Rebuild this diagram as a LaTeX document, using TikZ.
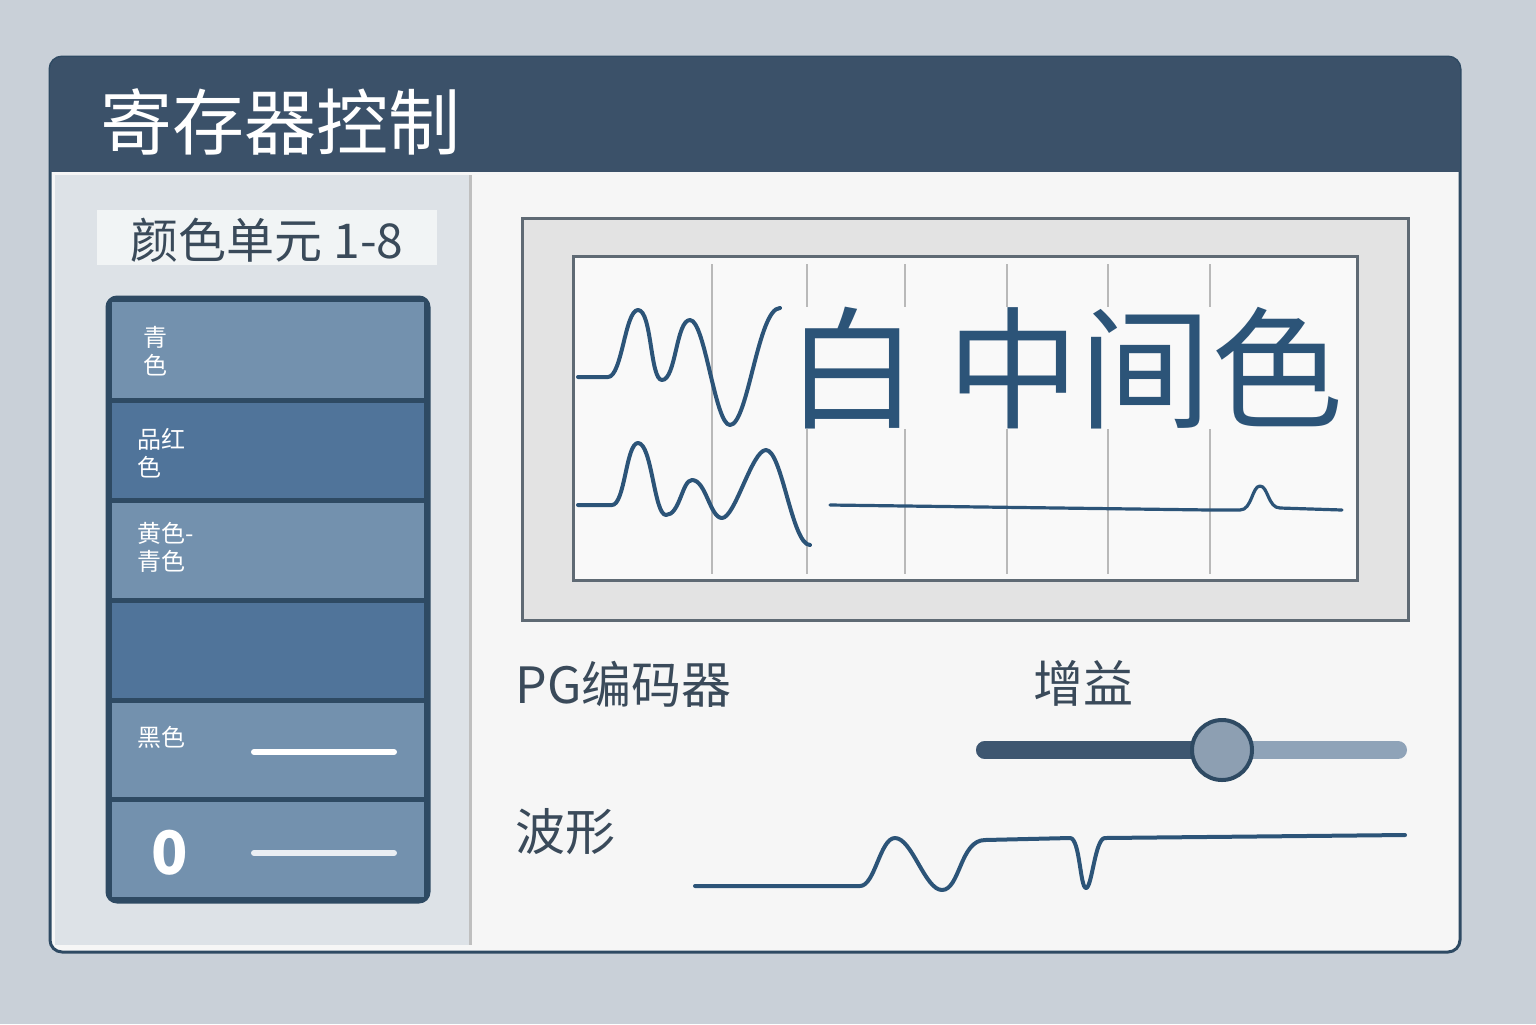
\documentclass[tikz,border=0pt]{standalone}
\usepackage{fontspec}
\setmainfont{Noto Sans CJK SC}
\begin{document}
\begin{tikzpicture}[x=0.5pt,y=-0.5pt,
  lbl/.style={anchor=west,inner sep=0pt,font=\fontsize{12}{14}\selectfont,text=white,align=left},
  wave/.style={draw=wavec,line width=2pt,line join=round,line cap=round},
  grid/.style={draw=gray!55,line width=1.2pt}]
\definecolor{bg}{HTML}{C9D0D8}
\definecolor{dark}{HTML}{2E4A63}
\definecolor{hdr}{HTML}{3B5169}
\definecolor{rowl}{HTML}{7391AE}
\definecolor{rowd}{HTML}{50749A}
\definecolor{wavec}{HTML}{2C5478}
\definecolor{txt}{HTML}{3A4A5A}
\definecolor{leftp}{HTML}{DDE2E7}
\definecolor{trackl}{HTML}{8FA3B8}
\useasboundingbox (0,0) rectangle (1536,1024);
\fill[bg] (0,0) rectangle (1536,1024);
\node[draw=dark,line width=1.5pt,fill=white!93!gray,rounded corners=6pt,minimum width=705pt,minimum height=447.5pt,inner sep=0pt] (panel) at (755,504.5) {};
\fill[hdr,rounded corners=6pt] (50,57) rectangle (1460,120);
\fill[hdr] (50,100) rectangle (1460,172);
\node[anchor=west,inner sep=0pt,text=white,font=\fontsize{36}{38}\selectfont] (title) at (100,122) {寄存器控制};
\fill[leftp] (55,175) rectangle (470,945);
\draw[gray!50,line width=1.5pt] (470,175) -- (470,945);
\fill[white!60!leftp] (97,210) rectangle (437,265);
\node[inner sep=0pt,text=txt,font=\fontsize{24}{26}\selectfont] (cu) at (267,240) {颜色单元 1-8};
\node[draw=dark,line width=1.5pt,fill=dark,rounded corners=5pt,minimum width=161pt,minimum height=302.5pt,inner sep=0pt] (list) at (268,599.5) {};
\fill[rowl] (112,302) rectangle (424,398);
\fill[rowd] (112,403) rectangle (424,498);
\fill[rowl] (112,503) rectangle (424,598);
\fill[rowd] (112,603) rectangle (424,698);
\fill[rowl] (112,703) rectangle (424,797);
\fill[rowl] (112,802) rectangle (424,897);
\node[lbl] (r1) at (143,351) {青\\色};
\node[lbl] (r2) at (137,453) {品红\\色};
\node[lbl] (r3) at (137,547) {黄色-\\青色};
\node[lbl] (r5) at (137,737) {黑色};
\node[inner sep=0pt,text=white,font=\bfseries\fontsize{30}{32}\selectfont] (r6) at (170,853) {0};
\draw[white,line width=3pt,line cap=round] (254,752) -- (394,752);
\draw[white!85!rowl,line width=3pt,line cap=round] (254,853) -- (394,853);
% scope
\node[draw=gray!60!dark,line width=1.5pt,fill=gray!22!white,minimum width=443pt,minimum height=201pt,inner sep=0pt] (scope) at (965,419) {};
\node[draw=gray!60!dark,line width=1.5pt,fill=white!95!gray,minimum width=392pt,minimum height=162pt,inner sep=0pt] (screen) at (965,418) {};
\foreach \x in {712,807,905,1007,1108,1210} \draw[grid] (\x,264) -- (\x,574);
\draw[wave] (578,377) -- (608,377) .. controls (622,377) and (625,310) .. (638,310) .. controls (652,310) and (650,380) .. (662,380) .. controls (676,380) and (676,320) .. (690,320) .. controls (705,320) and (715,425) .. (730,425) .. controls (748,425) and (758,308) .. (780,308);
\draw[wave] (578,505) -- (612,505) .. controls (625,505) and (626,443) .. (638,443) .. controls (652,443) and (654,515) .. (666,515) .. controls (680,515) and (682,480) .. (692,480) .. controls (706,480) and (710,518) .. (722,518) .. controls (735,518) and (752,450) .. (766,450) .. controls (782,450) and (792,545) .. (810,545);
\draw[wave,line width=1.6pt] (830,505) -- (1210,510) -- (1240,510) .. controls (1252,510) and (1252,486) .. (1260,486) .. controls (1268,486) and (1268,508) .. (1280,508) -- (1342,510);
\node[inner sep=0pt,fill=white!95!gray,text=wavec,font=\fontsize{66}{68}\selectfont] (big) at (1065,368) {白 中间色};
% labels
\node[anchor=west,inner sep=0pt,text=txt,font=\fontsize{25}{27}\selectfont] (pg) at (515,684) {PG编码器};
\node[inner sep=0pt,text=txt,font=\fontsize{25}{27}\selectfont] (gain) at (1083,683) {增益};
\node[anchor=west,inner sep=0pt,text=txt,font=\fontsize{25}{27}\selectfont] (wf) at (515,832) {波形};
% slider
\draw[trackl,line width=9pt,line cap=round] (985,750) -- (1398,750);
\draw[hdr!85!rowd,line width=9pt,line cap=round] (985,750) -- (1222,750);
\node[circle,draw=dark,line width=2pt,fill=trackl!90!gray,minimum size=30pt,inner sep=0pt] (knob) at (1222,750) {};
% waveform
\draw[wave] (695,886) -- (860,886) .. controls (875,886) and (880,838) .. (895,838) .. controls (912,838) and (925,890) .. (942,890) .. controls (960,890) and (960,840) .. (985,840) -- (1070,838) .. controls (1080,838) and (1080,888) .. (1086,888) .. controls (1092,888) and (1095,838) .. (1105,838) -- (1405,835);
\end{tikzpicture}
\end{document}
